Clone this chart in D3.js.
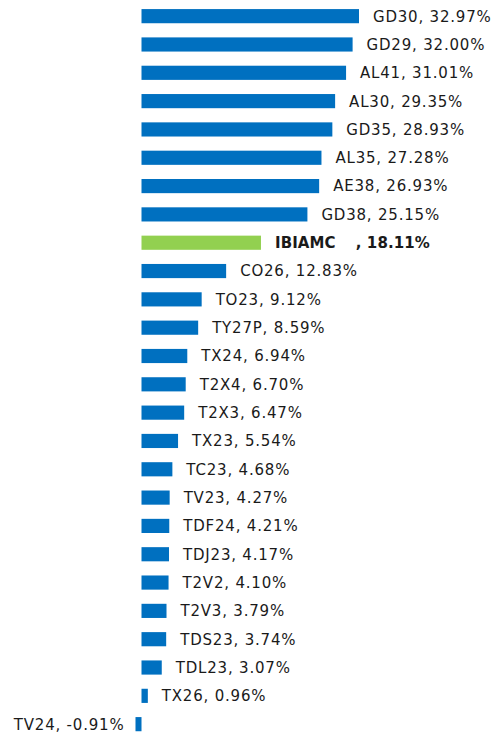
<!DOCTYPE html>
<html>
<head>
<meta charset="utf-8">
<script src="https://cdn.jsdelivr.net/npm/d3@7"></script>
<style>
  html, body { margin: 0; padding: 0; background: #fff; }
  svg { display: block; }
</style>
</head>
<body>
<svg id="chart" width="501" height="733"></svg>
<script>
const categories = ["GD30","GD29","AL41","AL30","GD35","AL35","AE38","GD38","IBIAMC","CO26","TO23","TY27P","TX24","T2X4","T2X3","TX23","TC23","TV23","TDF24","TDJ23","T2V2","T2V3","TDS23","TDL23","TX26","TV24"];
const values = [32.97,32.00,31.01,29.35,28.93,27.28,26.93,25.15,18.11,12.83,9.12,8.59,6.94,6.70,6.47,5.54,4.68,4.27,4.21,4.17,4.10,3.79,3.74,3.07,0.96,-0.91];
const highlight = "IBIAMC";

const data = categories.map((c, i) => ({ name: c, value: values[i] }));
const svg = d3.select("#chart");

const x = d3.scaleLinear().domain([0, 32.97]).range([141.5, 359]);
const step = 28.32;
const y = d3.scaleBand()
  .domain(categories)
  .range([2, 2 + step * categories.length])
  .paddingInner(0.5)
  .paddingOuter(0.25);

svg.append("g").selectAll("rect")
  .data(data)
  .join("rect")
  .attr("x", d => Math.min(x(0), x(d.value)))
  .attr("width", d => Math.abs(x(d.value) - x(0)))
  .attr("y", d => y(d.name))
  .attr("height", y.bandwidth())
  .attr("fill", d => d.name === highlight ? "#92D050" : "#0070C0");

const fmt = v => v.toFixed(2) + "%";
const labels = svg.append("g")
  .style("font-family", "'DejaVu Sans', sans-serif")
  .style("font-size", "15px")
  .attr("fill", "#1a1a1a")
  .selectAll("text")
  .data(data)
  .join("text")
  .attr("x", d => d.value >= 0 ? x(d.value) + 14 : x(d.value) - 11)
  .attr("y", d => y(d.name) + y.bandwidth() / 2)
  .attr("dy", "0.36em")
  .attr("text-anchor", d => d.value >= 0 ? "start" : "end")
  .style("letter-spacing", d => d.name === highlight ? "0.1px" : "0.8px")
  .style("font-weight", d => d.name === highlight ? "bold" : "normal");

labels.each(function(d) {
  const t = d3.select(this);
  if (d.name === highlight) {
    t.append("tspan").text(d.name);
    t.append("tspan").attr("dx", 20).text(", " + fmt(d.value));
  } else {
    t.text(d.name + ", " + fmt(d.value));
  }
});
</script>
</body>
</html>
